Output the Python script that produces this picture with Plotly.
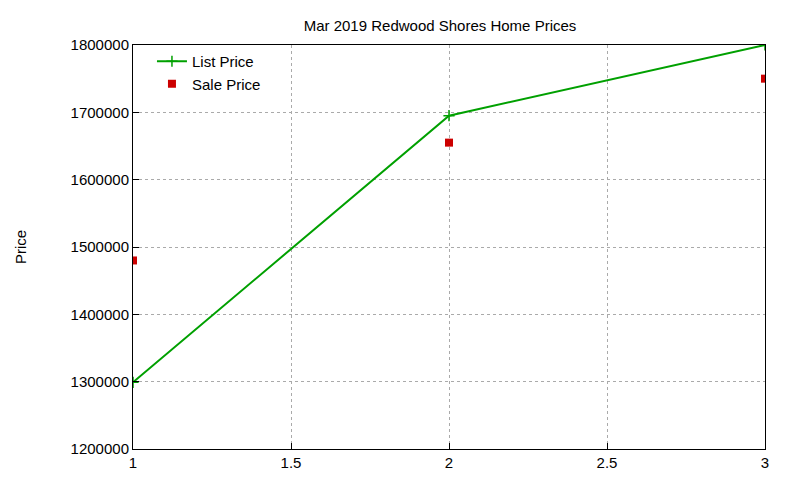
import plotly.graph_objects as go

x_vals = [1, 2, 3]
list_price = [1299000, 1695000, 1800000]
sale_price = [1480000, 1655000, 1750000]

fig = go.Figure()
fig.add_trace(go.Scatter(x=x_vals, y=list_price, name="List Price", mode="lines+markers",
                         line=dict(color="#00a000", width=2),
                         marker=dict(symbol="cross-thin", size=8, line=dict(color="#00a000", width=1.5))))
fig.add_trace(go.Scatter(x=x_vals, y=sale_price, name="Sale Price", mode="markers",
                         marker=dict(symbol="square", size=8, color="#cc0000")))

axis_common = dict(showline=True, mirror=True, linecolor="black", linewidth=1,
                   gridcolor="#aaaaaa", griddash="dot", gridwidth=1, ticks="inside",
                   tickcolor="black", ticklen=6, zeroline=False,
                   tickfont=dict(family="Liberation Sans, Arial", size=15, color="black"))
fig.update_xaxes(range=[1, 3], dtick=0.5, **axis_common)
fig.update_yaxes(range=[1200000, 1800000], dtick=100000, tickformat="d",
                 title=dict(text="Price", font=dict(family="Liberation Sans, Arial", size=15, color="black"), standoff=40),
                 **axis_common)
fig.update_layout(
    width=800, height=480, plot_bgcolor="white", paper_bgcolor="white",
    margin=dict(l=111, r=43, t=37, b=39),
    title=dict(text="Mar 2019 Redwood Shores Home Prices", x=0.54, xanchor="center", y=0.975,
               font=dict(family="Liberation Sans, Arial", size=15, color="black")),
    legend=dict(x=0.03, y=1.0, xanchor="left", yanchor="top", bgcolor="rgba(0,0,0,0)",
                font=dict(family="Liberation Sans, Arial", size=15, color="black"),
                tracegroupgap=0),
    font=dict(family="Liberation Sans, Arial"),
)
fig.write_html("out.html")
